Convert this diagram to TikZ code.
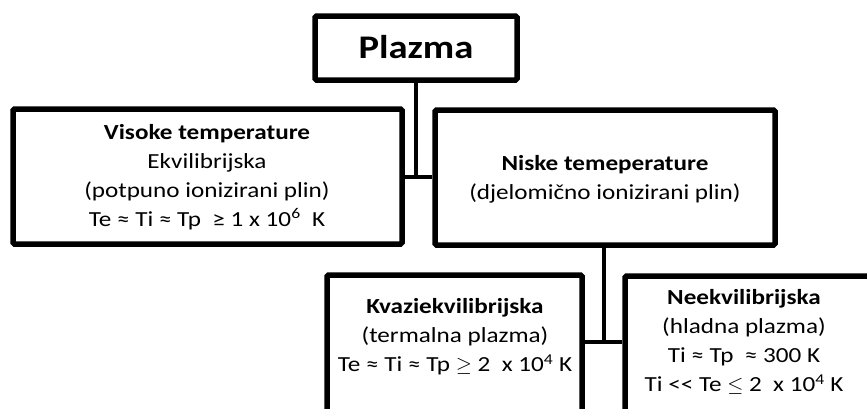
\documentclass[tikz,border=0pt]{standalone}
\usepackage{fontspec}
\setmainfont{Carlito}[FakeStretch=1.17]
\usetikzlibrary{shadows}
\begin{document}
\begin{tikzpicture}[x=1pt,y=-1pt,
  box/.style={draw=black, line width=5.5pt, fill=white, rounded corners=1.5pt,
    rectangle, inner sep=0pt,
    drop shadow={shadow xshift=1.5pt, shadow yshift=-2pt, opacity=0.2}},
  conn/.style={draw=black, line width=4pt},
  txt/.style={align=center, inner sep=0pt, font=\fontsize{21.5}{29}\selectfont},
  big/.style={inner sep=0pt, font=\fontsize{33}{40}\selectfont\bfseries}]
\useasboundingbox (0,0) rectangle (867,408);
\clip (0,0) rectangle (867,408);

\node[box, minimum width=202pt, minimum height=64pt] (plazma) at (416,48) {};
\node[box, minimum width=389pt, minimum height=135pt] (visoke) at (207.5,176.5) {};
\node[box, minimum width=340pt, minimum height=135pt] (niske) at (605,177.5) {};
\node[box, minimum width=255pt, minimum height=185pt] (kvazi) at (454.5,367.5) {};
\node[box, minimum width=295pt, minimum height=184pt] (neekv) at (772.5,368) {};

\coordinate (j1) at (416,177);
\coordinate (j2) at (604,342);
\draw[conn] (plazma.south) -- (j1);
\draw[conn] (visoke.east |- j1) -- (niske.west |- j1);
\draw[conn] (niske.south -| j2) -- (j2);
\draw[conn] (kvazi.east |- j2) -- (neekv.west |- j2);

\node[big] (tplazma) at (416,47) {Plazma};
\node[txt] (tvis) at (207,177) {\textbf{Visoke temperature}\\Ekvilibrijska\\(potpuno ionizirani plin)\\Te ≈ Ti ≈ Tp~ ≥ 1 x 10\textsuperscript{6}~ K};
\node[txt] (tnis) at (605,179) {\textbf{Niske temeperature}\\(djelomično ionizirani plin)};
\node[txt] (tkva) at (455,337) {\textbf{Kvaziekvilibrijska}\\(termalna plazma)\\Te ≈ Ti ≈ Tp $\geq$ 2~ x 10\textsuperscript{4} K};
\node[txt] (tnee) at (744,342) {\textbf{Neekvilibrijska}\\(hladna plazma)\\Ti ≈ Tp~ ≈ 300 K\\Ti <{}< Te $\leq$ 2~ x 10\textsuperscript{4} K};
\end{tikzpicture}
\end{document}
